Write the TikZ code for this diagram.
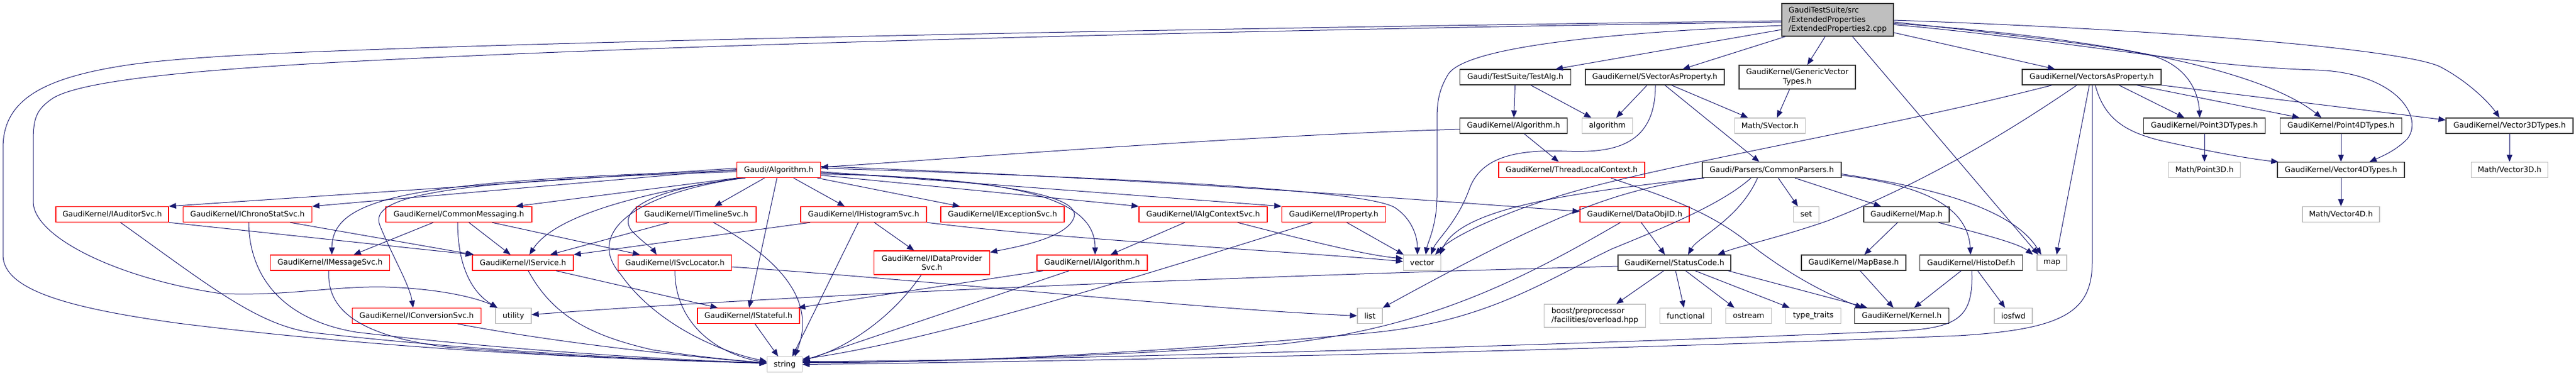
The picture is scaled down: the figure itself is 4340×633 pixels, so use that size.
\documentclass[tikz,border=0pt]{standalone}
\usepackage{fontspec}
\setmainfont{DejaVu Sans}
\usetikzlibrary{arrows.meta,calc}
\definecolor{eb}{RGB}{25,25,112}
\definecolor{rootfill}{RGB}{191,191,191}
\definecolor{extb}{RGB}{191,191,191}
\definecolor{trb}{RGB}{255,0,0}
\newcommand{\dgfont}{\fontsize{6.4pt}{7.6pt}\selectfont}
\tikzset{
  nb/.style={draw=black!80, fill=white, line width=0.65pt, inner sep=0pt, minimum height=13pt, font=\dgfont},
  nr/.style={nb, draw=trb},
  ng/.style={nb, draw=extb},
  e/.style={draw=eb, line width=0.5pt, -{Triangle[length=6pt,width=4.8pt]}},
}
\begin{document}
\begin{tikzpicture}[x=0.5pt,y=-0.5pt]
\useasboundingbox (0,0) rectangle (4340,633);
% row 0
\node[nb, fill=rootfill, minimum width=94pt, minimum height=27.5pt, align=left] (root) at (3096,33.5) {GaudiTestSuite/src\\/ExtendedProperties\\/ExtendedProperties2.cpp};
% row 1
\node[nb, minimum width=93.5pt] (testalg) at (2553,130) {Gaudi/TestSuite/TestAlg.h};
\node[nb, minimum width=117pt] (svec) at (2788,130) {GaudiKernel/SVectorAsProperty.h};
\node[nb, minimum width=98pt, minimum height=20pt, align=center] (genvec) at (3028,130) {GaudiKernel/GenericVector\\Types.h};
\node[nb, minimum width=117pt] (vecprop) at (3524,130) {GaudiKernel/VectorsAsProperty.h};
% row 2
\node[nb, minimum width=90.5pt] (galg) at (2550,212) {GaudiKernel/Algorithm.h};
\node[ng, minimum width=42.5pt] (nalgorithm) at (2708,212) {algorithm};
\node[ng, minimum width=59.5pt] (svector) at (2982,212) {Math/SVector.h};
\node[nb, minimum width=102.5pt] (p3t) at (3714,212) {GaudiKernel/Point3DTypes.h};
\node[nb, minimum width=102.5pt] (p4t) at (3944,212) {GaudiKernel/Point4DTypes.h};
\node[nb, minimum width=107pt] (v3t) at (4228,212) {GaudiKernel/Vector3DTypes.h};
% row 3
\node[nr, minimum width=70.5pt] (alg) at (1312,286.5) {Gaudi/Algorithm.h};
\node[nr, minimum width=123pt] (tlc) at (2648,286.5) {GaudiKernel/ThreadLocalContext.h};
\node[nb, minimum width=117pt] (parsers) at (2985,286.5) {Gaudi/Parsers/CommonParsers.h};
\node[ng, minimum width=60.5pt] (p3d) at (3714,286.5) {Math/Point3D.h};
\node[nb, minimum width=107pt] (v4t) at (3944,286.5) {GaudiKernel/Vector4DTypes.h};
\node[ng, minimum width=64.5pt] (v3d) at (4228,286.5) {Math/Vector3D.h};
% row 4
\node[nr, minimum width=95pt] (audit) at (189,361.5) {GaudiKernel/IAuditorSvc.h};
\node[nr, minimum width=108.5pt] (chrono) at (417,361.5) {GaudiKernel/IChronoStatSvc.h};
\node[nr, minimum width=123pt] (cmsg) at (773,361.5) {GaudiKernel/CommonMessaging.h};
\node[nr, minimum width=101pt] (timeline) at (1173,361.5) {GaudiKernel/ITimelineSvc.h};
\node[nr, minimum width=106pt] (histo) at (1455,361.5) {GaudiKernel/IHistogramSvc.h};
\node[nr, minimum width=104pt] (exc) at (1689,361.5) {GaudiKernel/IExceptionSvc.h};
\node[nr, minimum width=108pt] (algctx) at (2027,361.5) {GaudiKernel/IAlgContextSvc.h};
\node[nr, minimum width=87.5pt] (iprop) at (2247,361.5) {GaudiKernel/IProperty.h};
\node[nr, minimum width=92pt] (dataobj) at (2754,361.5) {GaudiKernel/DataObjID.h};
\node[ng, minimum width=21.5pt] (nset) at (3043,361.5) {set};
\node[nb, minimum width=72pt] (maph) at (3212,361.5) {GaudiKernel/Map.h};
\node[ng, minimum width=65pt] (v4d) at (3944,361.5) {Math/Vector4D.h};
% row 5
\node[nr, minimum width=100.5pt] (msgsvc) at (556,443) {GaudiKernel/IMessageSvc.h};
\node[nr, minimum width=85pt] (isvc) at (881,443) {GaudiKernel/IService.h};
\node[nr, minimum width=95.5pt] (svcloc) at (1137,443) {GaudiKernel/ISvcLocator.h};
\node[nr, minimum width=97.5pt, minimum height=20pt, align=center] (dataprov) at (1570,443) {GaudiKernel/IDataProvider\\Svc.h};
\node[nr, minimum width=93pt] (ialg) at (1840,443) {GaudiKernel/IAlgorithm.h};
\node[ng, minimum width=31.5pt] (nvector) at (2396,443) {vector};
\node[nb, minimum width=95pt] (status) at (2821,443) {GaudiKernel/StatusCode.h};
\node[nb, minimum width=88pt] (mapbase) at (3123,443) {GaudiKernel/MapBase.h};
\node[nb, minimum width=86.5pt] (histodef) at (3321,443) {GaudiKernel/HistoDef.h};
\node[ng, minimum width=25pt] (nmap) at (3457,443) {map};
% row 6
\node[nr, minimum width=108.5pt] (conv) at (702,532.5) {GaudiKernel/IConversionSvc.h};
\node[ng, minimum width=30pt] (nutility) at (865,532.5) {utility};
\node[nr, minimum width=86pt] (stateful) at (1261,532.5) {GaudiKernel/IStateful.h};
\node[ng, minimum width=21pt] (nlist) at (2308,532.5) {list};
\node[ng, minimum width=85.5pt, minimum height=19.5pt, align=left] (boost) at (2687,532.5) {boost/preprocessor\\/facilities/overload.hpp};
\node[ng, minimum width=43.5pt] (functional) at (2840,532.5) {functional};
\node[ng, minimum width=38.5pt] (ostream) at (2946,532.5) {ostream};
\node[ng, minimum width=46.5pt] (typetraits) at (3055,532.5) {type\_traits};
\node[nb, minimum width=79.5pt] (kernel) at (3204,532.5) {GaudiKernel/Kernel.h};
\node[ng, minimum width=32pt] (iosfwd) at (3392,532.5) {iosfwd};
% row 7
\node[ng, minimum width=29.5pt] (nstring) at (1322,614.5) {string};

% ---------------- edges from root
\draw[e] ($(root.west)+(0,1.5)$) .. controls (2000,48) and (1200,65) .. (730,80) .. controls (500,88) and (300,95) .. (200,112) .. controls (60,135) and (5,175) .. (5,250) -- (5,430) .. controls (5,490) and (120,520) .. (300,545) .. controls (700,595) and (1100,608) .. ($(nstring.west)+(0,-3)$);
\draw[e] ($(root.west)+(0,3.5)$) .. controls (2000,52) and (1200,75) .. (730,97) .. controls (400,112) and (150,130) .. (90,165) .. controls (60,185) and (56,200) .. (56,240) -- (56,340) .. controls (56,400) and (200,470) .. (372,495) .. controls (480,500) and (560,482) .. (650,484) .. controls (750,487) and (810,505) .. ($(nutility.north)+(-27,0)$);
\draw[e] ($(root.west)+(0,9.5)$) .. controls (2700,55) and (2470,80) .. (2440,125) .. controls (2425,150) and (2421,170) .. (2421,200) -- (2421,330) .. controls (2421,380) and (2405,410) .. ($(nvector.north)+(6,0)$);
\draw[e] ($(root.west)+(0,16.5)$) -- ($(testalg.north)+(68,0)$);
\draw[e] ($(root.south)+(-88,0)$) -- ($(svec.north)+(47,0)$);
\draw[e] ($(root.south)+(-21,0)$) -- ($(genvec.north)+(17,0)$);
\draw[e] ($(root.east)+(0,21.5)$) -- ($(vecprop.north)+(-62,0)$);
\draw[e] ($(root.south)+(25,0)$) -- ($(nmap.north)+(-23,0)$);
\draw[e] ($(root.east)+(0,3.5)$) .. controls (3400,60) and (3560,78) .. (3630,95) .. controls (3690,115) and (3704,160) .. ($(p3t.north)+(-8,0)$);
\draw[e] ($(root.east)+(0,6)$) .. controls (3500,60) and (3800,110) .. ($(p4t.north)+(-33,0)$);
\draw[e] ($(root.east)+(0,8)$) .. controls (3500,70) and (3700,112) .. (3900,118) .. controls (4040,122) and (4085,200) .. (4055,235) .. controls (4035,255) and (4010,265) .. ($(v4t.north)+(48,0)$);
\draw[e] ($(root.east)+(0,0.5)$) .. controls (3700,52) and (4050,85) .. (4110,112) .. controls (4160,138) and (4195,175) .. ($(v3t.north)+(-17,0)$);

% ---------------- row 1 sources
\draw[e] (testalg) -- (galg);
\draw[e] ($(testalg.south)+(26,0)$) -- ($(nalgorithm.north)+(-27,0)$);
\draw[e] ($(svec.south)+(-13,0)$) -- ($(nalgorithm.north)+(15,0)$);
\draw[e] ($(svec.south)+(1,0)$) .. controls (2789,245) and (2720,258) .. (2640,255) .. controls (2560,252) and (2495,262) .. (2475,320) .. controls (2455,375) and (2420,405) .. ($(nvector.north)+(15,0)$);
\draw[e] ($(svec.south)+(17,0)$) -- ($(parsers.north)+(-21,0)$);
\draw[e] ($(svec.south)+(28,0)$) -- ($(svector.north)+(-37,0)$);
\draw[e] ($(genvec.south)+(-13,0)$) -- ($(svector.north)+(12,0)$);
\draw[e] ($(vecprop.south)+(-67,0)$) .. controls (3200,210) and (2900,260) .. (2700,310) .. controls (2560,345) and (2450,395) .. ($(nvector.north)+(22,0)$);
\draw[e] ($(vecprop.south)+(-25,0)$) .. controls (3300,280) and (3160,340) .. (3080,372) .. controls (3000,400) and (2930,415) .. ($(status.north)+(73,0)$);
\draw[e] ($(vecprop.south)+(-4,0)$) -- ($(nmap.north)+(8,0)$);
\draw[e] ($(vecprop.south)+(1,0)$) -- (3525,440) .. controls (3525,525) and (3480,555) .. (3300,566) .. controls (2500,598) and (1600,612) .. (nstring.east);
\draw[e] ($(vecprop.south)+(6,0)$) .. controls (3545,200) and (3580,222) .. (3640,237) .. controls (3720,255) and (3790,268) .. ($(v4t.north west)+(2,0)$);
\draw[e] ($(vecprop.south)+(46,0)$) -- ($(p3t.north)+(-34,0)$);
\draw[e] ($(vecprop.south)+(76,0)$) -- ($(p4t.north)+(-70,0)$);
\draw[e] (vecprop.south east) -- ($(v3t.north west)+(0,4)$);

% ---------------- row 2 sources
\draw[e] (p3t) -- (p3d);
\draw[e] (p4t) -- (v4t);
\draw[e] (v3t) -- (v3d);
\draw[e] (v4t) -- (v4d);
\draw[e] ($(galg.west)+(0,6)$) .. controls (2100,228) and (1600,268) .. ($(alg.east)+(0,-4.5)$);
\draw[e] ($(galg.south)+(18,0)$) -- ($(tlc.north)+(-22,0)$);

% ---------------- row 3 sources
\draw[e] ($(tlc.south)+(66,0)$) .. controls (2800,330) and (2880,355) .. (2950,413) .. controls (3030,475) and (3100,505) .. ($(kernel.north)+(-66,0)$);
\draw[e] ($(parsers.south)+(11,0)$) -- ($(nset.north)+(-14,0)$);
\draw[e] ($(parsers.south)+(39,0)$) -- ($(maph.north)+(-43,0)$);
\draw[e] ($(parsers.east)+(0,9)$) .. controls (3220,310) and (3315,340) .. ($(histodef.north)+(-1,0)$);
\draw[e] ($(parsers.east)+(0,7)$) .. controls (3250,315) and (3390,350) .. ($(nmap.north)+(-18,0)$);
\draw[e] ($(parsers.south)+(-24,0)$) .. controls (2930,370) and (2860,400) .. ($(status.north)+(23,0)$);
\draw[e] ($(parsers.south)+(-35,0)$) .. controls (2900,345) and (2800,385) .. (2715,420) .. controls (2600,475) and (2500,545) .. (2300,562) .. controls (1900,600) and (1550,612) .. ($(nstring.east)+(0,-3)$);
\draw[e] (parsers.south west) .. controls (2650,325) and (2460,350) .. ($(nvector.north)+(30,0)$);
\draw[e] ($(parsers.south west)+(4,0)$) .. controls (2720,320) and (2620,360) .. (nlist.north east);

% Gaudi/Algorithm.h
\draw[e] ($(alg.west)+(0,-3)$) -- (audit.north east);
\draw[e] ($(alg.west)+(0,-1)$) -- (chrono.north east);
\draw[e] ($(alg.west)+(0,1)$) .. controls (700,305) and (560,330) .. ($(msgsvc.north)+(3,0)$);
\draw[e] ($(alg.west)+(0,3)$) .. controls (750,305) and (620,330) .. (640,380) .. controls (660,430) and (690,480) .. ($(conv.north)+(-6,0)$);
\draw[e] (alg.south west) -- ($(cmsg.north)+(96,0)$);
\draw[e] ($(alg.south west)+(5,0)$) .. controls (1050,330) and (930,370) .. ($(isvc.north)+(11,0)$);
\draw[e] ($(alg.south west)+(10,0)$) .. controls (1050,330) and (990,400) .. (1046,463) .. controls (1100,540) and (1200,590) .. ($(nstring.west)+(0,-5)$);
\draw[e] ($(alg.south west)+(15,0)$) .. controls (1080,320) and (1040,360) .. (1065,390) .. controls (1085,410) and (1100,420) .. ($(svcloc.north)+(-31,0)$);
\draw[e] ($(alg.south)+(-24,0)$) -- ($(timeline.north)+(31,0)$);
\draw[e] ($(alg.south)+(-3,0)$) -- ($(stateful.north)+(1,0)$);
\draw[e] ($(alg.south)+(25,0)$) -- ($(histo.north)+(-32,0)$);
\draw[e] ($(alg.south east)+(-6,0)$) -- ($(exc.north)+(-72,0)$);
\draw[e] ($(alg.east)+(0,5)$) .. controls (1600,300) and (1820,320) .. (1810,365) .. controls (1800,400) and (1720,415) .. ($(dataprov.north east)+(0,3)$);
\draw[e] ($(alg.east)+(0,7)$) .. controls (1700,300) and (1845,330) .. ($(ialg.north)+(5,0)$);
\draw[e] ($(alg.east)+(0,9)$) -- (algctx.north west);
\draw[e] ($(alg.east)+(0,3)$) -- (iprop.north west);
\draw[e] ($(alg.east)+(0,-3)$) .. controls (1900,300) and (2300,320) .. (2350,350) .. controls (2380,370) and (2388,400) .. ($(nvector.north)+(-8,0)$);
\draw[e] ($(alg.east)+(0,-6)$) .. controls (1900,300) and (2300,330) .. ($(dataobj.west)+(0,-5)$);

% ---------------- row 4 sources
\draw[e] ($(maph.south)+(-15,0)$) -- ($(mapbase.north)+(18,0)$);
\draw[e] ($(maph.south)+(54,0)$) .. controls (3340,395) and (3400,410) .. ($(nmap.north)+(-32,0)$);
\draw[e] ($(dataobj.south)+(11,0)$) -- ($(status.north)+(-16,0)$);
\draw[e] ($(dataobj.south)+(-24,0)$) .. controls (2550,480) and (2400,552) .. (2160,580) .. controls (1800,605) and (1500,612) .. ($(nstring.east)+(0,-4)$);
\draw[e] ($(algctx.south)+(-31,0)$) -- ($(ialg.north)+(31,0)$);
\draw[e] ($(algctx.south)+(58,0)$) .. controls (2200,405) and (2300,430) .. ($(nvector.west)+(0,-7)$);
\draw[e] ($(iprop.south)+(22,0)$) -- ($(nvector.north west)+(1,0)$);
\draw[e] ($(iprop.south)+(-36,0)$) .. controls (2000,440) and (1600,570) .. ($(nstring.east)+(0,-9)$);
\draw[e] ($(histo.south)+(18,0)$) -- ($(dataprov.north)+(-30,0)$);
\draw[e] (histo.south east) .. controls (1800,405) and (2200,425) .. ($(nvector.west)+(0,-2)$);
\draw[e] ($(histo.south)+(-90,0)$) -- (isvc.north east);
\draw[e] ($(histo.south)+(-9,0)$) -- ($(nstring.north)+(13,0)$);
\draw[e] ($(timeline.south)+(-46,0)$) -- ($(isvc.north)+(46,0)$);
\draw[e] ($(timeline.south)+(29,0)$) .. controls (1320,440) and (1375,510) .. ($(nstring.north)+(17,0)$);
\draw[e] ($(cmsg.south)+(17,0)$) -- ($(isvc.north)+(-21,0)$);
\draw[e] ($(cmsg.south)+(56,0)$) -- ($(svcloc.north)+(-59,0)$);
\draw[e] ($(cmsg.south)+(-2,0)$) .. controls (771,440) and (790,490) .. ($(nutility.north)+(-27,0)$);
\draw[e] ($(cmsg.south)+(-43,0)$) -- ($(msgsvc.north)+(40,0)$);
\draw[e] (audit.south east) -- ($(isvc.north west)+(1,0)$);
\draw[e] ($(chrono.south)+(72,0)$) -- ($(isvc.north west)+(3,0)$);
\draw[e] ($(audit.south)+(14,0)$) .. controls (350,480) and (430,545) .. (520,560) .. controls (800,592) and (1100,607) .. ($(nstring.west)+(0,-2)$);
\draw[e] ($(chrono.south)+(2,0)$) .. controls (420,470) and (480,540) .. (600,560) .. controls (850,590) and (1100,605) .. ($(nstring.west)+(0,-2)$);

% ---------------- row 5 sources
\draw[e] ($(msgsvc.south)+(-2,0)$) .. controls (550,520) and (600,565) .. (750,585) .. controls (1000,605) and (1200,610) .. ($(nstring.west)+(0,-2)$);
\draw[e] ($(isvc.south)+(9,0)$) .. controls (930,530) and (990,565) .. (1100,590) .. controls (1200,605) and (1260,609) .. ($(nstring.west)+(0,-2)$);
\draw[e] ($(isvc.south)+(56,0)$) -- ($(stateful.north)+(-52,0)$);
\draw[e] (svcloc.south) .. controls (1137,540) and (1200,595) .. ($(nstring.west)+(0,-3)$);
\draw[e] ($(svcloc.east)+(0,7)$) .. controls (1600,475) and (2000,520) .. (nlist.west);
\draw[e] ($(dataprov.south)+(-18,0)$) .. controls (1500,540) and (1420,590) .. ($(nstring.east)+(0,-7)$);
\draw[e] ($(ialg.south)+(-83,0)$) -- ($(stateful.north east)+(-3,0)$);
\draw[e] ($(ialg.south)+(-39,0)$) -- ($(nstring.east)+(0,-6)$);
\draw[e] ($(status.south)+(-18,0)$) -- ($(boost.north)+(36,0)$);
\draw[e] ($(status.south)+(2,0)$) -- ($(functional.north)+(-3,0)$);
\draw[e] ($(status.south)+(19,0)$) -- ($(ostream.north)+(-24,0)$);
\draw[e] ($(status.south)+(35,0)$) -- ($(typetraits.north)+(-40,0)$);
\draw[e] ($(status.south east)+(-5,0)$) -- ($(kernel.north)+(-58,0)$);
\draw[e] ($(status.west)+(0,6)$) .. controls (2000,468) and (1300,500) .. ($(nutility.east)+(0,-2)$);
\draw[e] ($(mapbase.south)+(11,0)$) -- ($(kernel.north)+(-14,0)$);
\draw[e] ($(histodef.south)+(-17,0)$) -- ($(kernel.north)+(21,0)$);
\draw[e] ($(histodef.south)+(11,0)$) -- ($(iosfwd.north)+(-14,0)$);
\draw[e] ($(histodef.south)+(1,0)$) .. controls (3325,535) and (3300,553) .. (3200,558) .. controls (2500,588) and (1600,610) .. ($(nstring.east)+(0,-5)$);

% ---------------- row 6 sources
\draw[e] ($(conv.south)+(69,0)$) .. controls (950,580) and (1150,600) .. ($(nstring.west)+(0,-2)$);
\draw[e] ($(stateful.south)+(11,0)$) -- ($(nstring.north)+(-11,0)$);
\end{tikzpicture}
\end{document}
